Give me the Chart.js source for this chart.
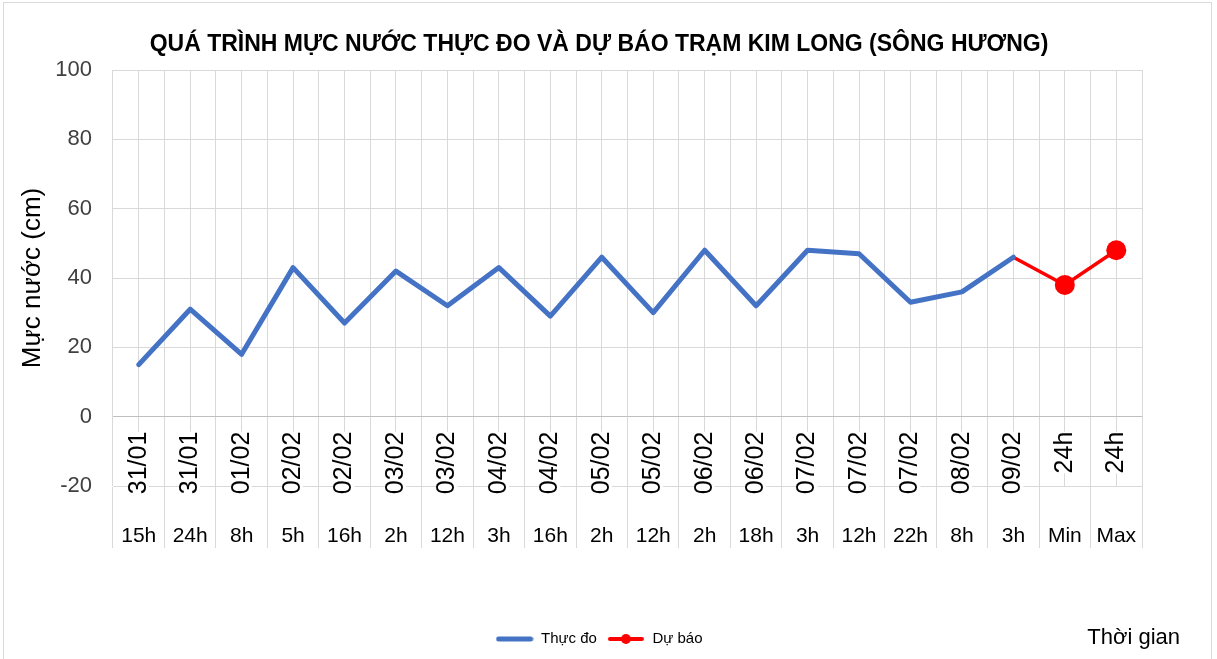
<!DOCTYPE html>
<html>
<head>
<meta charset="utf-8">
<script src="https://cdn.jsdelivr.net/npm/chart.js@4.4.0/dist/chart.umd.min.js"></script>
<style>
  html, body { margin: 0; padding: 0; background: #fff; overflow: hidden; }
  #wrap { position: relative; width: 1217px; height: 659px; }
  #frame { position: absolute; left: 3px; top: 2px; width: 1207px; height: 680px; border: 1.5px solid #d9d9d9; }
  canvas { position: absolute; left: 0; top: 0; }
</style>
</head>
<body>
<div id="wrap">
  <div id="frame"></div>
  <canvas id="levelChart" width="1217" height="659"></canvas>
</div>
<script>
// Categories: date row (rotated) and hour row
const dateLabels = ['31/01','31/01','01/02','02/02','02/02','03/02','03/02','04/02','04/02','05/02',
                    '05/02','06/02','06/02','07/02','07/02','07/02','08/02','09/02','24h','24h'];
const hourLabels = ['15h','24h','8h','5h','16h','2h','12h','3h','16h','2h',
                    '12h','2h','18h','3h','12h','22h','8h','3h','Min','Max'];

// Water level (cm)
const measured = [15, 31, 18, 43, 27, 42, 32, 43, 29, 46, 30, 48, 32, 48, 47, 33, 36, 46];
const forecast = [46, 38, 48]; // 09/02 3h -> 24h Min -> 24h Max

const yMin = -20, yMax = 100, yStep = 20;

const FONT = "'Liberation Sans', Arial, sans-serif";

// forecast starts at the last measured point
const forecastStart = measured.length - 1;
const forecastData = hourLabels.map((_, i) => i >= forecastStart ? forecast[i - forecastStart] : null);

// legend icons
function lineIcon(color, width, dot) {
  const c = document.createElement('canvas');
  c.width = 38; c.height = 14;
  const g = c.getContext('2d');
  g.strokeStyle = color; g.lineWidth = width; g.lineCap = 'round';
  g.beginPath(); g.moveTo(3, 7); g.lineTo(35, 7); g.stroke();
  if (dot) { g.fillStyle = color; g.beginPath(); g.arc(19, 7, 5, 0, Math.PI * 2); g.fill(); }
  return c;
}
const legendIcons = [lineIcon('#4472C4', 5, false), lineIcon('#FF0000', 4, true)];

// rotated date row + axis title
const dateRow = {
  id: 'dateRow',
  beforeDatasetsDraw(chart) {
    const { ctx, scales: { x, y } } = chart;
    const top = y.getPixelForValue(0) + 15;
    ctx.save();
    ctx.font = '25px ' + FONT;
    dateLabels.forEach((d, i) => {
      const px = x.getPixelForValue(i);
      const w = ctx.measureText(d).width;
      ctx.fillStyle = '#fff';
      ctx.fillRect(px - 10, top, 20, w);
      ctx.save();
      ctx.translate(px, top);
      ctx.rotate(-Math.PI / 2);
      ctx.fillStyle = '#000';
      ctx.textAlign = 'right';
      ctx.textBaseline = 'middle';
      ctx.fillText(d, 0, 0);
      ctx.restore();
    });
    ctx.font = '22px ' + FONT;
    ctx.fillStyle = '#000';
    ctx.textAlign = 'right';
    ctx.textBaseline = 'middle';
    ctx.fillText('Thời gian', x.right + 38, 638);
    ctx.restore();
  }
};

new Chart(document.getElementById('levelChart'), {
  type: 'line',
  data: {
    labels: hourLabels,
    datasets: [{
      label: 'Thực đo',
      data: measured,
      borderColor: '#4472C4',
      backgroundColor: '#4472C4',
      borderWidth: 5,
      borderJoinStyle: 'round',
      borderCapStyle: 'round',
      pointRadius: 0,
      tension: 0
    }, {
      label: 'Dự báo',
      data: forecastData,
      borderColor: '#FF0000',
      backgroundColor: '#FF0000',
      borderWidth: 3.5,
      pointRadius: (c) => c.dataIndex > forecastStart ? 10 : 0,
      pointBackgroundColor: '#FF0000',
      pointBorderWidth: 0,
      tension: 0
    }]
  },
  options: {
    responsive: false,
    animation: false,
    layout: { padding: { left: 4, right: 23, top: 0, bottom: 2.5 } },
    plugins: {
      title: {
        display: true,
        text: 'QUÁ TRÌNH MỰC NƯỚC THỰC ĐO VÀ DỰ BÁO TRẠM KIM LONG (SÔNG HƯƠNG)',
        color: '#000',
        font: { family: FONT, size: 23, weight: 'bold' },
        padding: { top: 31, bottom: 11.4 }
      },
      legend: {
        position: 'bottom',
        labels: {
          color: '#000',
          font: { family: FONT, size: 15 },
          usePointStyle: true,
          pointStyleWidth: 38,
          padding: 10,
          generateLabels: (chart) => Chart.defaults.plugins.legend.labels.generateLabels(chart)
            .map((l, i) => ({ ...l, pointStyle: legendIcons[i] }))
        }
      },
      tooltip: { enabled: false }
    },
    scales: {
      x: {
        offset: true,
        grid: { offset: true, color: '#d9d9d9', tickLength: 62 },
        border: { color: '#d9d9d9' },
        ticks: { color: '#000', font: { family: FONT, size: 21 }, padding: -24, maxRotation: 0, autoSkip: false },
        afterFit: (s) => { s.height = 135.5; }
      },
      x2: {
        type: 'category',
        labels: hourLabels,
        position: 'bottom',
        offset: true,
        grid: { offset: false, color: '#d9d9d9', drawTicks: false },
        border: { display: false },
        ticks: { display: false },
        afterFit: (s) => { s.height = 0; }
      },
      y: {
        min: yMin,
        max: yMax,
        ticks: { stepSize: yStep, color: '#404040', font: { family: FONT, size: 22 }, padding: 21 },
        grid: { color: (c) => c.tick.value === 0 ? '#bfbfbf' : '#d9d9d9', drawTicks: false },
        border: { display: false },
        title: {
          display: true,
          text: 'Mực nước (cm)',
          color: '#000',
          font: { family: FONT, size: 26 },
          padding: { top: 13, bottom: 0 }
        },
        afterFit: (s) => { s.width = 109; }
      },
      yR: {
        type: 'linear',
        position: 'right',
        grid: { display: false },
        border: { display: false },
        ticks: { display: false },
        afterFit: (s) => { s.width = 52; }
      }
    }
  },
  plugins: [dateRow]
});
</script>
</body>
</html>
